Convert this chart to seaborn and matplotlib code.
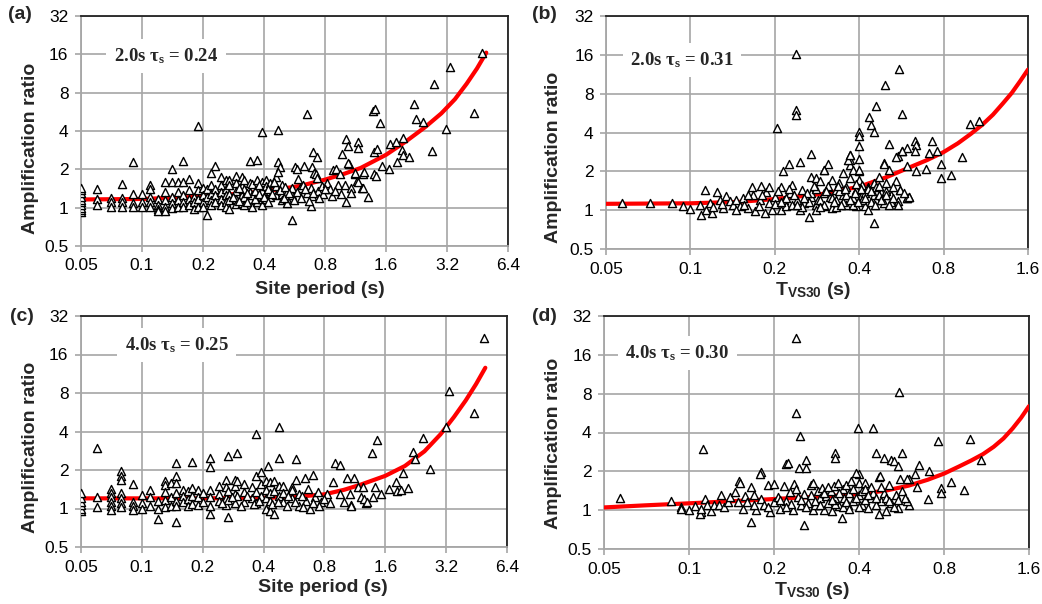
import numpy as np
import pandas as pd
import matplotlib
matplotlib.use("Agg")
import matplotlib.pyplot as plt
from matplotlib.ticker import FixedLocator, FixedFormatter, NullLocator
import seaborn as sns

# ---------------- data ----------------
x_ticks_site = [0.05, 0.1, 0.2, 0.4, 0.8, 1.6, 3.2, 6.4]
x_ticks_vs30 = [0.05, 0.1, 0.2, 0.4, 0.8, 1.6]
y_ticks = [0.5, 1, 2, 4, 8, 16, 32]

# (a) 2.0 s, site period
a_points = [
    (0.05, 0.92), (0.05, 0.96), (0.05, 1.0), (0.05, 1.04), (0.05, 1.1), (0.05, 1.15), (0.05, 1.22), (0.05, 1.3), (0.05, 1.38), (0.05, 1.44),
    (0.06, 1.41), (0.06, 1.18), (0.06, 1.04), (0.07, 1.19), (0.07, 1.11), (0.07, 1.02),
    (0.08, 1.53), (0.08, 1.2), (0.08, 1.11), (0.08, 1.01), (0.09, 2.28), (0.09, 1.27), (0.09, 1.08), (0.09, 1.01),
    (0.1, 1.27), (0.1, 1.11), (0.1, 1.02), (0.11, 1.5), (0.11, 1.41), (0.11, 1.21), (0.11, 1.11), (0.11, 1.02),
    (0.12, 1.16), (0.12, 1.04), (0.12, 0.98), (0.12, 0.95), (0.13, 1.58), (0.13, 1.33), (0.13, 1.14), (0.13, 1.01), (0.13, 0.95),
    (0.14, 2.02), (0.14, 1.58), (0.14, 1.21), (0.14, 1.08), (0.14, 1.0), (0.15, 1.58), (0.15, 1.33), (0.15, 1.14), (0.15, 1.02),
    (0.16, 2.33), (0.16, 1.58), (0.16, 1.25), (0.16, 1.11), (0.16, 1.01), (0.17, 1.68), (0.17, 1.37), (0.17, 1.18), (0.17, 1.04),
    (0.18, 1.21), (0.18, 1.11), (0.18, 0.98), (0.19, 4.4), (0.19, 1.57), (0.19, 1.37), (0.19, 1.16), (0.19, 1.02),
    (0.2, 1.44), (0.2, 1.25), (0.2, 1.11), (0.2, 1.01), (0.21, 0.87), (0.21, 1.41), (0.21, 1.21),
    (0.22, 1.88), (0.22, 1.5), (0.22, 1.29), (0.22, 1.14), (0.22, 1.04), (0.23, 2.14), (0.23, 1.41), (0.23, 1.25), (0.23, 1.11),
    (0.245, 1.75), (0.245, 1.5), (0.245, 1.33), (0.245, 1.18), (0.245, 1.04), (0.26, 1.65), (0.26, 1.41), (0.26, 1.25), (0.26, 1.11), (0.26, 1.02),
    (0.27, 1.65), (0.27, 1.5), (0.27, 1.29), (0.27, 1.14), (0.27, 0.98), (0.29, 1.77), (0.29, 1.55), (0.29, 1.36), (0.29, 1.18), (0.29, 1.06),
    (0.31, 1.75), (0.31, 1.47), (0.31, 1.25), (0.31, 1.08), (0.32, 1.65), (0.32, 1.41), (0.32, 1.21), (0.32, 1.04),
    (0.34, 2.33), (0.34, 1.55), (0.34, 1.33), (0.34, 1.16), (0.35, 1.53), (0.35, 1.25), (0.35, 1.01),
    (0.37, 2.37), (0.37, 1.65), (0.37, 1.41), (0.37, 1.21), (0.37, 1.11), (0.39, 3.9), (0.39, 1.6), (0.39, 1.36), (0.39, 1.18), (0.39, 1.04),
    (0.41, 1.65), (0.41, 1.47), (0.41, 1.3), (0.41, 1.16), (0.43, 1.55), (0.43, 1.36), (0.43, 1.21),
    (0.46, 1.75), (0.46, 1.47), (0.46, 1.25), (0.47, 4.1), (0.47, 2.3), (0.48, 2.1), (0.47, 1.9),
    (0.49, 1.5), (0.49, 1.29), (0.49, 1.14), (0.52, 1.33), (0.52, 1.18), (0.52, 1.08), (0.55, 0.8), (0.55, 1.41), (0.55, 1.25), (0.55, 1.44),
    (0.57, 2.07), (0.63, 2.14), (0.69, 2.1), (0.71, 1.86), (0.65, 5.4), (0.70, 2.72), (0.73, 2.5),
    (0.58, 2.02), (0.72, 1.85), (0.73, 1.72), (0.59, 1.67), (0.6, 1.44), (0.62, 1.52), (0.65, 1.31), (0.68, 1.44), (0.68, 1.03),
    (0.69, 1.23), (0.74, 1.35), (0.77, 1.48), (0.78, 1.27), (0.82, 1.57), (0.85, 1.39), (0.87, 1.23), (0.88, 1.96), (0.91, 2.0),
    (0.95, 1.85), (0.93, 1.52), (0.96, 1.27), (1.0, 1.52), (1.05, 2.19), (1.07, 1.44), (1.08, 1.31), (1.12, 1.85), (1.15, 1.62),
    (1.22, 1.44), (1.23, 1.85), (0.97, 2.62), (1.02, 3.46), (1.04, 3.07), (1.04, 2.23), (1.16, 3.3), (1.17, 2.96), (1.02, 1.11),
    (1.3, 1.22), (1.23, 1.43), (1.16, 1.6), (1.13, 1.88), (1.24, 1.92), (1.38, 5.74), (1.42, 6.0), (1.5, 4.6), (1.39, 2.72),
    (1.45, 2.9), (1.39, 1.83), (1.43, 1.77), (1.53, 2.14), (1.65, 2.03), (1.68, 3.16), (1.8, 3.3), (1.94, 3.5), (1.82, 2.27),
    (1.92, 2.84), (1.94, 2.6), (2.07, 2.5), (2.2, 6.5), (2.25, 4.97), (2.45, 4.7), (2.69, 2.78), (2.77, 9.36), (3.17, 4.15),
    (3.31, 12.8), (4.37, 5.5), (4.76, 16.5),
    (0.28, 1.22), (0.3, 1.12), (0.3, 1.42), (0.33, 1.3), (0.33, 1.1), (0.36, 1.35), (0.36, 1.17), (0.38, 1.5), (0.38, 1.27),
    (0.4, 1.22), (0.42, 1.4), (0.42, 1.1), (0.44, 1.28), (0.45, 1.6), (0.48, 1.38), (0.5, 1.2), (0.51, 1.45), (0.53, 1.3),
    (0.56, 1.15), (0.58, 1.33), (0.61, 1.2), (0.64, 1.4), (0.67, 1.12), (0.7, 1.3), (0.75, 1.2), (0.8, 1.4), (0.9, 1.35),
]
a_curve_T = [0.05, 0.1, 0.2, 0.4, 0.6, 0.8, 1.0, 1.2, 1.6, 2.0, 2.5, 3.0, 3.5, 4.0, 4.5, 5.0]
a_curve_A = [1.16, 1.17, 1.22, 1.34, 1.48, 1.66, 1.85, 2.05, 2.6, 3.3, 4.3, 5.5, 7.1, 9.4, 12.4, 16.5]

# (b) 2.0 s, T_VS30
b_points = [
    (0.057, 1.14), (0.072, 1.13), (0.086, 1.13), (0.094, 1.07), (0.1, 1.03), (0.239, 16.3), (0.239, 6.0), (0.239, 5.5),
    (0.203, 4.36), (0.225, 2.27), (0.246, 2.38), (0.214, 2.0), (0.27, 2.71), (0.31, 2.3), (0.3, 2.06), (0.265, 0.88),
    (0.4, 4.04), (0.4, 3.76), (0.4, 3.15), (0.4, 2.48), (0.37, 2.7), (0.37, 2.45), (0.37, 2.24), (0.4, 2.0),
    (0.434, 5.3), (0.44, 4.54), (0.45, 4.06), (0.46, 6.4), (0.496, 9.3), (0.554, 12.5), (0.57, 5.6), (0.51, 3.28), (0.45, 0.8),
    (0.55, 2.63), (0.57, 2.88), (0.59, 3.06), (0.63, 3.43), (0.64, 3.2), (0.63, 2.9), (0.59, 2.2), (0.64, 2.0), (0.69, 2.07),
    (0.71, 2.76), (0.73, 3.43), (0.76, 2.85), (0.78, 2.3), (0.78, 1.77), (0.85, 1.88), (0.93, 2.6), (0.99, 4.68), (1.07, 4.88),
    (0.49, 2.34), (0.55, 1.17), (0.59, 1.25), (0.6, 1.27), (0.56, 1.44),
    (0.108, 1.1), (0.109, 0.92), (0.113, 1.44), (0.114, 1.0), (0.117, 1.13), (0.119, 0.95), (0.124, 1.39), (0.127, 1.2),
    (0.131, 1.04), (0.134, 1.29), (0.138, 1.17), (0.142, 1.1), (0.146, 1.2), (0.15, 1.07), (0.154, 1.24), (0.161, 1.04),
    (0.166, 1.52), (0.167, 1.31), (0.17, 0.98), (0.177, 1.2), (0.179, 1.54), (0.184, 0.95), (0.186, 1.39), (0.19, 1.52),
    (0.19, 1.13), (0.2, 1.27), (0.21, 1.52), (0.21, 1.0), (0.216, 1.2), (0.22, 1.07), (0.226, 1.35), (0.23, 1.57),
    (0.24, 1.2), (0.245, 1.0), (0.25, 1.44), (0.255, 1.13), (0.27, 1.27),
    (0.27, 1.82), (0.27, 1.35), (0.28, 1.1), (0.28, 1.77), (0.285, 1.2), (0.29, 1.67), (0.3, 1.35), (0.3, 2.05), (0.3, 1.07),
    (0.31, 1.52), (0.315, 1.27), (0.32, 1.72), (0.32, 1.04), (0.33, 1.44), (0.33, 1.2), (0.34, 1.62), (0.35, 1.93), (0.35, 1.31),
    (0.36, 1.1), (0.36, 1.52), (0.365, 2.45), (0.37, 2.68), (0.37, 1.77), (0.38, 1.24), (0.38, 2.05), (0.39, 1.44), (0.39, 1.07),
    (0.4, 1.72), (0.4, 2.05), (0.41, 1.31), (0.41, 1.57), (0.42, 1.07), (0.42, 1.35), (0.43, 1.0), (0.43, 1.52), (0.45, 1.31),
    (0.45, 1.62), (0.46, 1.2), (0.47, 1.82), (0.48, 1.39), (0.49, 1.13), (0.49, 2.3), (0.5, 1.62), (0.51, 2.05), (0.52, 1.31),
    (0.54, 1.67), (0.54, 2.6), (0.55, 1.1), (0.56, 1.44), (0.57, 2.85), (0.59, 1.24), (0.6, 1.27),
    (0.12, 1.05), (0.13, 1.12), (0.145, 1.0), (0.155, 1.1), (0.16, 1.3), (0.175, 1.08), (0.18, 1.3), (0.195, 1.0), (0.2, 1.12),
    (0.205, 1.4), (0.22, 1.25), (0.23, 1.1), (0.235, 1.3), (0.25, 1.05), (0.26, 1.35), (0.265, 1.15), (0.28, 1.0), (0.28, 1.45),
    (0.29, 1.2), (0.3, 1.1), (0.31, 1.55), (0.32, 1.25), (0.33, 1.05), (0.34, 1.4), (0.35, 1.15), (0.36, 1.3), (0.38, 1.1),
    (0.39, 1.6), (0.41, 1.2), (0.43, 1.45), (0.44, 1.15), (0.46, 1.5), (0.47, 1.3), (0.5, 1.4), (0.52, 1.15), (0.53, 1.5),
    (0.21, 1.15), (0.225, 1.45), (0.24, 1.1), (0.255, 1.25), (0.275, 1.55), (0.29, 1.05), (0.305, 1.4), (0.325, 1.15),
    (0.335, 1.55), (0.345, 1.1), (0.355, 1.45), (0.37, 1.2), (0.385, 1.35), (0.395, 1.15), (0.405, 1.45), (0.42, 1.25),
    (0.44, 1.4), (0.455, 1.1), (0.47, 1.55), (0.48, 1.2), (0.5, 1.3), (0.51, 1.1), (0.53, 1.25), (0.58, 1.35),
]
b_curve_T = [0.05, 0.1, 0.15, 0.2, 0.3, 0.4, 0.5, 0.6, 0.7, 0.8, 0.9, 1.0, 1.1, 1.2, 1.3, 1.4, 1.5, 1.6]
b_curve_A = [1.12, 1.13, 1.16, 1.22, 1.34, 1.52, 1.8, 2.13, 2.45, 2.82, 3.3, 3.9, 4.6, 5.5, 6.7, 8.1, 10.0, 12.3]

# (c) 4.0 s, site period
c_points = [
    (0.05, 0.95), (0.05, 1.0), (0.05, 1.07), (0.05, 1.13), (0.05, 1.2), (0.05, 1.32), (0.06, 2.96), (0.06, 1.24), (0.06, 1.02),
    (0.07, 1.42), (0.07, 1.32), (0.07, 1.22), (0.07, 1.13), (0.07, 1.05), (0.07, 0.98),
    (0.079, 1.98), (0.079, 1.8), (0.079, 1.67), (0.079, 1.32), (0.079, 1.2), (0.079, 1.1), (0.079, 1.02),
    (0.09, 1.55), (0.09, 1.13), (0.09, 1.05), (0.09, 0.98), (0.1, 1.28), (0.1, 1.1), (0.1, 1.0), (0.11, 1.4), (0.11, 1.24), (0.11, 1.05),
    (0.12, 1.15), (0.12, 1.0), (0.12, 0.83), (0.13, 1.63), (0.13, 1.54), (0.13, 1.35), (0.13, 1.16), (0.13, 1.03),
    (0.14, 1.58), (0.14, 1.22), (0.14, 1.05), (0.148, 2.26), (0.148, 1.78), (0.148, 1.58), (0.148, 1.32), (0.148, 1.15), (0.148, 1.05), (0.148, 0.78),
    (0.16, 1.4), (0.16, 1.26), (0.16, 1.12), (0.17, 1.36), (0.17, 1.19), (0.17, 1.05), (0.178, 2.33), (0.178, 1.44), (0.178, 1.26), (0.178, 1.09),
    (0.19, 1.4), (0.19, 1.22), (0.19, 1.07), (0.2, 1.32), (0.2, 1.12), (0.218, 2.47), (0.218, 2.13), (0.218, 1.4), (0.218, 1.22), (0.218, 1.05), (0.218, 0.9),
    (0.24, 1.49), (0.24, 1.3), (0.24, 1.15), (0.26, 1.67), (0.26, 1.46), (0.26, 1.2), (0.26, 1.07), (0.268, 2.58), (0.268, 1.38), (0.268, 1.16), (0.268, 0.86),
    (0.29, 1.67), (0.29, 1.49), (0.29, 1.3), (0.29, 1.1), (0.296, 2.7), (0.296, 1.63), (0.296, 1.26), (0.32, 1.55), (0.32, 1.35), (0.32, 1.13),
    (0.35, 1.46), (0.35, 1.2), (0.369, 3.8), (0.369, 1.78), (0.369, 1.35), (0.369, 1.1), (0.39, 1.92), (0.39, 1.55), (0.39, 1.25),
    (0.41, 1.63), (0.41, 1.4), (0.41, 1.2), (0.41, 1.0), (0.43, 1.6), (0.43, 1.32), (0.43, 1.15), (0.43, 0.95), (0.45, 1.63), (0.45, 1.36), (0.45, 0.9),
    (0.476, 4.37), (0.476, 2.47), (0.476, 1.49), (0.476, 1.26), (0.5, 1.49), (0.5, 1.32), (0.5, 1.12), (0.55, 1.48), (0.55, 1.4), (0.55, 1.2),
    (0.42, 2.15), (0.58, 2.46), (0.58, 1.66), (0.6, 1.31), (0.64, 1.74), (0.66, 1.43), (0.7, 1.82), (0.72, 1.23), (0.74, 1.35), (0.77, 1.13),
    (0.82, 1.31), (0.88, 1.6), (0.9, 2.25), (0.95, 2.19), (0.95, 1.31), (1.0, 1.13), (1.03, 1.74), (1.07, 1.31), (1.08, 1.06),
    (1.12, 1.72), (1.17, 1.48), (1.22, 1.23), (1.24, 1.48), (1.29, 1.11), (1.37, 2.74), (1.39, 1.23), (1.43, 1.48), (1.46, 3.42),
    (1.53, 1.31), (1.67, 1.43), (1.81, 1.6), (1.83, 1.37), (1.92, 1.39), (1.95, 1.91), (2.07, 1.45), (2.19, 2.77), (2.25, 2.46),
    (2.45, 3.57), (2.67, 2.05), (3.2, 4.35), (3.32, 8.25), (4.37, 5.63), (4.95, 21.6),
    (1.08, 1.05), (1.25, 1.18), (1.3, 1.12), (0.6, 1.05), (0.65, 1.15), (0.68, 1.0), (0.75, 1.05), (0.8, 1.18), (0.85, 1.1),
    (0.62, 1.25), (0.7, 1.1),
    (0.25, 1.1), (0.28, 1.22), (0.31, 1.05), (0.33, 1.25), (0.36, 1.08), (0.38, 1.15), (0.44, 1.08), (0.47, 1.12),
    (0.52, 1.05), (0.53, 1.25), (0.57, 1.12), (0.63, 1.02),
]
c_curve_T = [0.05, 0.1, 0.2, 0.4, 0.6, 0.8, 1.0, 1.2, 1.6, 2.0, 2.5, 3.0, 3.5, 4.0, 4.5, 5.0]
c_curve_A = [1.2, 1.2, 1.2, 1.21, 1.24, 1.29, 1.4, 1.53, 1.8, 2.15, 2.8, 3.8, 5.2, 7.0, 9.4, 12.6]

# (d) 4.0 s, T_VS30
d_points = [
    (0.057, 1.25), (0.086, 1.17), (0.094, 1.05), (0.1, 1.0), (0.11, 0.96), (0.112, 2.99), (0.239, 21.7), (0.239, 5.67),
    (0.247, 3.79), (0.398, 4.35), (0.45, 4.35), (0.555, 8.3), (0.255, 0.77), (0.166, 0.81), (0.18, 1.98), (0.15, 1.68),
    (0.22, 2.29), (0.225, 2.33), (0.246, 2.14), (0.26, 2.14), (0.26, 2.45), (0.33, 2.75), (0.33, 2.55), (0.4, 1.9),
    (0.46, 2.75), (0.47, 1.82), (0.49, 2.55), (0.52, 2.47), (0.53, 2.4), (0.55, 2.2), (0.57, 2.75), (0.6, 1.73), (0.63, 1.9),
    (0.65, 2.24), (0.71, 2.0), (0.76, 3.43), (0.7, 1.22), (0.64, 1.52), (0.78, 1.48), (0.78, 1.37), (0.85, 1.66), (0.94, 1.43),
    (0.99, 3.57), (1.08, 2.47), (0.56, 1.73), (0.59, 1.73), (0.6, 1.1), (0.59, 1.17), (0.55, 1.04),
    (0.094, 1.03), (0.105, 1.07), (0.109, 0.93), (0.11, 1.03), (0.114, 1.23), (0.116, 1.09), (0.12, 0.98), (0.123, 1.1),
    (0.128, 1.09), (0.13, 1.3), (0.133, 1.06), (0.137, 1.16), (0.14, 1.27), (0.145, 1.38), (0.149, 1.16), (0.152, 1.63),
    (0.155, 1.03), (0.158, 1.29), (0.16, 1.16), (0.166, 1.51), (0.17, 1.31), (0.173, 1.0), (0.179, 1.92), (0.18, 1.23),
    (0.185, 1.09), (0.19, 1.56), (0.193, 0.97), (0.2, 1.16), (0.2, 1.59), (0.206, 1.27), (0.21, 1.03), (0.217, 1.54),
    (0.22, 1.17), (0.227, 1.38), (0.233, 1.0), (0.236, 1.6), (0.243, 1.27), (0.25, 1.09), (0.256, 1.34), (0.263, 1.13),
    (0.27, 1.56), (0.274, 1.0),
    (0.27, 1.32), (0.275, 1.63), (0.28, 1.1), (0.286, 1.4), (0.29, 1.25), (0.297, 1.49), (0.3, 1.01), (0.306, 1.28), (0.31, 1.14),
    (0.319, 1.4), (0.32, 0.98), (0.327, 1.53), (0.33, 1.25), (0.336, 1.63), (0.34, 1.07), (0.347, 0.87), (0.35, 1.45), (0.355, 1.25),
    (0.36, 1.58), (0.365, 1.1), (0.37, 1.36), (0.375, 1.68), (0.38, 1.17), (0.39, 1.94), (0.4, 1.32), (0.4, 1.63), (0.41, 1.1),
    (0.41, 1.4), (0.42, 1.63), (0.43, 1.04), (0.44, 1.25), (0.45, 1.36), (0.47, 0.93), (0.475, 1.83), (0.48, 1.17), (0.49, 1.36),
    (0.5, 0.98), (0.51, 1.58), (0.52, 1.14), (0.54, 1.32), (0.57, 1.4), (0.58, 1.25),
    (0.17, 1.1), (0.19, 1.05), (0.21, 1.2), (0.23, 1.12), (0.25, 1.2), (0.28, 1.18), (0.3, 1.35), (0.33, 1.12), (0.35, 1.05),
    (0.38, 1.45), (0.42, 1.2), (0.44, 1.5), (0.46, 1.1), (0.5, 1.25), (0.53, 1.05),
    (0.22, 1.05), (0.24, 1.45), (0.26, 1.05), (0.29, 1.1), (0.31, 1.5), (0.32, 1.2), (0.34, 1.35), (0.36, 1.15), (0.37, 1.02),
    (0.39, 1.25), (0.4, 1.05), (0.42, 1.45), (0.43, 1.3), (0.46, 1.25), (0.48, 1.5), (0.51, 1.18), (0.55, 1.2),
]
d_curve_T = [0.05, 0.07, 0.1, 0.15, 0.2, 0.3, 0.4, 0.5, 0.6, 0.7, 0.8, 0.9, 1.0, 1.1, 1.2, 1.3, 1.4, 1.5, 1.6]
d_curve_A = [1.05, 1.09, 1.13, 1.18, 1.22, 1.28, 1.33, 1.42, 1.55, 1.72, 1.92, 2.17, 2.43, 2.72, 3.1, 3.6, 4.3, 5.2, 6.4]

# ---------------- style ----------------
sns.set_theme(style="white")
plt.rcParams["font.family"] = ["Liberation Sans", "DejaVu Sans"]
plt.rcParams["mathtext.fontset"] = "custom"
plt.rcParams["mathtext.rm"] = "Liberation Sans"
plt.rcParams["mathtext.bf"] = "Liberation Sans:bold"
plt.rcParams["mathtext.it"] = "Liberation Serif:bold"

W, H = 1042, 604
fig = plt.figure(figsize=(W / 100, H / 100), dpi=100)


def px_axes(left, top, right, bottom):
    return fig.add_axes([left / W, 1 - bottom / H, (right - left) / W, (bottom - top) / H])


GRID = "#a6a6a6"


def draw_panel(ax, pts, cT, cA, xticks, xlabel, note, note_xy, xlab_xy, ylab_xy):
    df = pd.DataFrame(pts, columns=["T", "A"])
    cdf = pd.DataFrame({"T": cT, "A": cA})
    ax.set_xscale("log", base=2)
    ax.set_yscale("log", base=2)
    sns.lineplot(data=cdf, x="T", y="A", color="#ff0000", lw=3.0, sort=False,
                 estimator=None, ax=ax, zorder=3, solid_capstyle="round")
    sns.scatterplot(data=df, x="T", y="A", marker="^", s=34, facecolor="white",
                    edgecolor="black", linewidth=1.0, ax=ax, zorder=4, legend=False)
    ax.set_xlim(xticks[0], xticks[-1])
    ax.set_ylim(0.5, 32)
    ax.xaxis.set_major_locator(FixedLocator(xticks))
    ax.xaxis.set_major_formatter(FixedFormatter([f"{v:g}" for v in xticks]))
    ax.yaxis.set_major_locator(FixedLocator(y_ticks))
    ax.yaxis.set_major_formatter(FixedFormatter([f"{v:g}" for v in y_ticks]))
    ax.xaxis.set_minor_locator(NullLocator())
    ax.yaxis.set_minor_locator(NullLocator())
    ax.grid(True, color=GRID, lw=1.2, zorder=0)
    ax.set_axisbelow(True)
    ax.tick_params(axis="both", which="major", length=4, width=1.2, color=GRID,
                   labelsize=12.5, pad=5, labelcolor="black", bottom=True, left=True)
    for s in ["left", "bottom"]:
        ax.spines[s].set_color(GRID)
        ax.spines[s].set_linewidth(1.3)
    for s in ["top", "right"]:
        ax.spines[s].set_color("#222222")
        ax.spines[s].set_linewidth(1.3)
    ax.set_xlabel(xlabel, fontsize=14, fontweight="bold")
    ax.set_ylabel("Amplification ratio", fontsize=14, fontweight="bold")
    ax.xaxis.set_label_coords(*xlab_xy)
    ax.yaxis.set_label_coords(*ylab_xy)
    ax.text(note_xy[0], note_xy[1], note, transform=ax.transAxes, ha="center", va="center",
            fontsize=13.5, fontweight="bold", family=["Liberation Serif", "DejaVu Serif"],
            zorder=5, bbox=dict(boxstyle="square,pad=0.4", fc="white", ec="none"))


ax_a = px_axes(81, 16, 508, 246)
ax_b = px_axes(606, 16, 1028, 249)
ax_c = px_axes(81, 316, 507, 547)
ax_d = px_axes(604, 316, 1029, 549)

tv = r"T$_{\mathbf{VS30}}$ (s)"
draw_panel(ax_a, a_points, a_curve_T, a_curve_A, x_ticks_site, "Site period (s)",
           r"2.0s τ$_{\mathit{s}}$ = 0.24", (0.199, 0.826), (0.56, -0.15), (-0.098, 0.426))
draw_panel(ax_b, b_points, b_curve_T, b_curve_A, x_ticks_vs30, tv,
           r"2.0s τ$_{\mathit{s}}$ = 0.31", (0.18, 0.811), (0.49, -0.135), (-0.104, 0.395))
draw_panel(ax_c, c_points, c_curve_T, c_curve_A, x_ticks_site, "Site period (s)",
           r"4.0s τ$_{\mathit{s}}$ = 0.25", (0.225, 0.874), (0.568, -0.14), (-0.098, 0.433))
draw_panel(ax_d, d_points, d_curve_T, d_curve_A, x_ticks_vs30, tv,
           r"4.0s τ$_{\mathit{s}}$ = 0.30", (0.172, 0.841), (0.49, -0.135), (-0.098, 0.455))

for lab, x, y in [("(a)", 8, 6), ("(b)", 532, 6), ("(c)", 10, 308), ("(d)", 532, 308)]:
    fig.text(x / W, 1 - y / H, lab, ha="left", va="top", fontsize=14, fontweight="bold")

fig.savefig("out.png", dpi=100)
